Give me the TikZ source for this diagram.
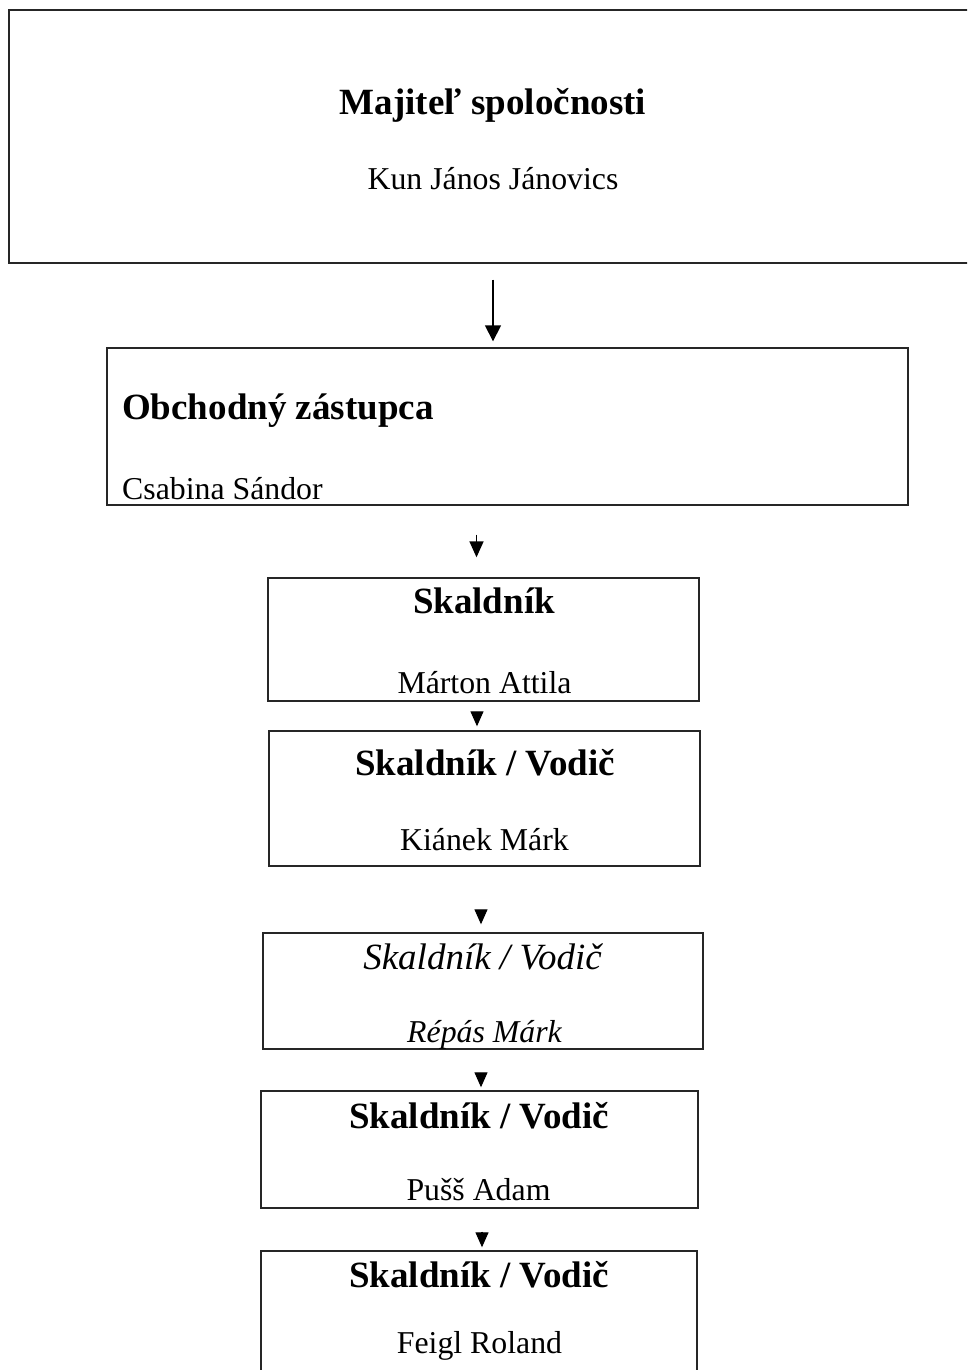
\documentclass[tikz,border=0pt]{standalone}
\usepackage{fontspec}
\setmainfont{Liberation Serif}
\usetikzlibrary{arrows.meta,calc}
\tikzset{
  box/.style={draw=black!85, line width=1.4pt, inner sep=0pt, fill=none},
  ttl/.style={font=\fontsize{37}{40}\selectfont\bfseries, inner sep=0pt, anchor=base},
  ttli/.style={font=\fontsize{37}{40}\selectfont\itshape, inner sep=0pt, anchor=base},
  nam/.style={font=\fontsize{31.8}{36}\selectfont, inner sep=0pt, anchor=base},
  nami/.style={font=\fontsize{31.8}{36}\selectfont\itshape, inner sep=0pt, anchor=base},
  longarr/.style={line width=1.6pt, -{Triangle[width=16pt,length=16pt]}},
  shortarr/.style={line width=1.6pt, -{Triangle[width=14pt,length=16pt]}},
  tri/.style={line width=1.2pt, -{Triangle[width=13pt,length=15pt]}},
}
\begin{document}
\begin{tikzpicture}[x=1pt,y=-1pt]
\useasboundingbox (0,0) rectangle (967,1370);
\clip (0,0) rectangle (967,1370);
\fill[white] (0,0) rectangle (967,1370);
% boxes
\node[box, minimum width=968pt, minimum height=253pt] (b1) at (493,136.5) {};
\node[box, minimum width=801pt, minimum height=157pt] (b2) at (507.5,426.5) {};
\node[box, minimum width=431pt, minimum height=123pt] (b3) at (483.5,639.5) {};
\node[box, minimum width=431pt, minimum height=135pt] (b4) at (484.5,798.5) {};
\node[box, minimum width=440pt, minimum height=116pt] (b5) at (483,991) {};
\node[box, minimum width=437pt, minimum height=117pt] (b6) at (479.5,1149.5) {};
\node[box, minimum width=436pt, minimum height=139pt] (b7) at (479,1320.5) {};
% texts
\node[ttl] (t1) at (493,115) {Majiteľ spoločnosti};
\node[nam] (n1) at (493,189) {Kun János Jánovics};
\node[ttl, anchor=base west] (t2) at (122,419) {Obchodný zástupca};
\node[nam, anchor=base west] (n2) at (122,499) {Csabina Sándor};
\node[ttl] (t3) at (484,613) {Skaldník};
\node[nam] (n3) at (484.5,693) {Márton Attila};
\node[ttl] (t4) at (485,775) {Skaldník / Vodič};
\node[nam] (n4) at (484.5,850) {Kiánek Márk};
\node[ttli] (t5) at (482.5,969) {Skaldník / Vodič};
\node[nami] (n5) at (484.5,1042) {Répás Márk};
\node[ttl] (t6) at (479,1128) {Skaldník / Vodič};
\node[nam] (n6) at (478.5,1200) {Pušš Adam};
\node[ttl] (t7) at (479,1287) {Skaldník / Vodič};
\node[nam] (n7) at (479.5,1353) {Feigl Roland};
% connectors
\draw[longarr] ($(b1.south)+(0,16)$) -- ($(b1.south |- b2.north)+(0,-6)$);
\draw[shortarr] ($(b2.south -| b3.north)+(-7,29)$) -- ($(b3.north)+(-7,-20)$);
\draw[tri] ($(b3.south)+(-6.5,10)$) -- ($(b4.north)+(-7.5,-4)$);
\draw[tri] ($(b4.south)+(-3.5,44)$) -- ($(b5.north)+(-2,-8)$);
\draw[tri] ($(b5.south)+(-2,23)$) -- ($(b6.north)+(1.5,-3)$);
\draw[tri] ($(b6.south)+(2.5,23)$) -- ($(b7.north)+(3,-3)$);
\end{tikzpicture}
\end{document}
